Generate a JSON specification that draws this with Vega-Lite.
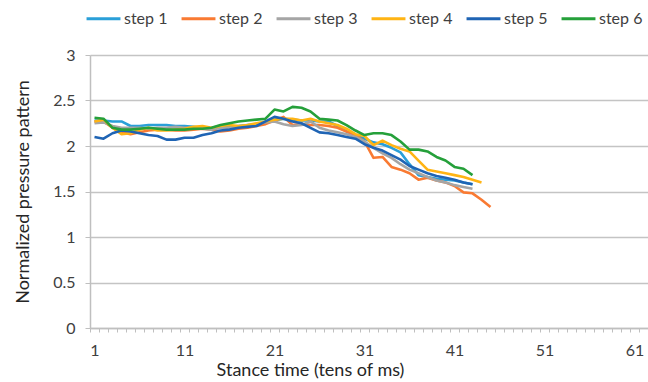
{
  "$schema": "https://vega.github.io/schema/vega-lite/v6.json",
  "width": 558,
  "height": 273,
  "autosize": "none",
  "padding": {"left": 90, "top": 55, "right": 0, "bottom": 54},
  "background": "white",
  "config": {
    "font": "Lato",
    "view": {"stroke": null},
    "axis": {"labelFont": "Lato", "titleFont": "Lato", "labelColor": "#404040", "titleColor": "#262626", "titleFontWeight": "normal"}
  },
  "datasets": {
    "steps": [
      {"step":"step 1","t":1,"v":2.28},{"step":"step 1","t":2,"v":2.28},{"step":"step 1","t":3,"v":2.27},{"step":"step 1","t":4,"v":2.27},{"step":"step 1","t":5,"v":2.22},{"step":"step 1","t":6,"v":2.22},{"step":"step 1","t":7,"v":2.23},{"step":"step 1","t":8,"v":2.23},{"step":"step 1","t":9,"v":2.23},{"step":"step 1","t":10,"v":2.22},{"step":"step 1","t":11,"v":2.22},{"step":"step 1","t":12,"v":2.21},{"step":"step 1","t":13,"v":2.2},{"step":"step 1","t":14,"v":2.19},{"step":"step 1","t":15,"v":2.2},{"step":"step 1","t":16,"v":2.21},{"step":"step 1","t":17,"v":2.22},{"step":"step 1","t":18,"v":2.23},{"step":"step 1","t":19,"v":2.24},{"step":"step 1","t":20,"v":2.26},{"step":"step 1","t":21,"v":2.28},{"step":"step 1","t":22,"v":2.3},{"step":"step 1","t":23,"v":2.29},{"step":"step 1","t":24,"v":2.28},{"step":"step 1","t":25,"v":2.28},{"step":"step 1","t":26,"v":2.27},{"step":"step 1","t":27,"v":2.27},{"step":"step 1","t":28,"v":2.22},{"step":"step 1","t":29,"v":2.16},{"step":"step 1","t":30,"v":2.12},{"step":"step 1","t":31,"v":2.08},{"step":"step 1","t":32,"v":2.04},{"step":"step 1","t":33,"v":2.02},{"step":"step 1","t":34,"v":1.98},{"step":"step 1","t":35,"v":1.93},{"step":"step 1","t":36,"v":1.8},{"step":"step 1","t":37,"v":1.68},{"step":"step 1","t":38,"v":1.66},{"step":"step 1","t":39,"v":1.64},{"step":"step 1","t":40,"v":1.63},{"step":"step 1","t":41,"v":1.62},{"step":"step 1","t":42,"v":1.6},{"step":"step 1","t":43,"v":1.58},

      {"step":"step 2","t":1,"v":2.27},{"step":"step 2","t":2,"v":2.27},{"step":"step 2","t":3,"v":2.2},{"step":"step 2","t":4,"v":2.15},{"step":"step 2","t":5,"v":2.13},{"step":"step 2","t":6,"v":2.15},{"step":"step 2","t":7,"v":2.17},{"step":"step 2","t":8,"v":2.18},{"step":"step 2","t":9,"v":2.18},{"step":"step 2","t":10,"v":2.17},{"step":"step 2","t":11,"v":2.17},{"step":"step 2","t":12,"v":2.18},{"step":"step 2","t":13,"v":2.19},{"step":"step 2","t":14,"v":2.18},{"step":"step 2","t":15,"v":2.16},{"step":"step 2","t":16,"v":2.17},{"step":"step 2","t":17,"v":2.19},{"step":"step 2","t":18,"v":2.2},{"step":"step 2","t":19,"v":2.22},{"step":"step 2","t":20,"v":2.24},{"step":"step 2","t":21,"v":2.28},{"step":"step 2","t":22,"v":2.32},{"step":"step 2","t":23,"v":2.23},{"step":"step 2","t":24,"v":2.24},{"step":"step 2","t":25,"v":2.23},{"step":"step 2","t":26,"v":2.23},{"step":"step 2","t":27,"v":2.22},{"step":"step 2","t":28,"v":2.2},{"step":"step 2","t":29,"v":2.16},{"step":"step 2","t":30,"v":2.12},{"step":"step 2","t":31,"v":2.05},{"step":"step 2","t":32,"v":1.87},{"step":"step 2","t":33,"v":1.88},{"step":"step 2","t":34,"v":1.77},{"step":"step 2","t":35,"v":1.74},{"step":"step 2","t":36,"v":1.7},{"step":"step 2","t":37,"v":1.63},{"step":"step 2","t":38,"v":1.65},{"step":"step 2","t":39,"v":1.62},{"step":"step 2","t":40,"v":1.6},{"step":"step 2","t":41,"v":1.56},{"step":"step 2","t":42,"v":1.49},{"step":"step 2","t":43,"v":1.48},{"step":"step 2","t":44,"v":1.41},{"step":"step 2","t":45,"v":1.33},

      {"step":"step 3","t":1,"v":2.25},{"step":"step 3","t":2,"v":2.26},{"step":"step 3","t":3,"v":2.22},{"step":"step 3","t":4,"v":2.2},{"step":"step 3","t":5,"v":2.2},{"step":"step 3","t":6,"v":2.2},{"step":"step 3","t":7,"v":2.19},{"step":"step 3","t":8,"v":2.2},{"step":"step 3","t":9,"v":2.2},{"step":"step 3","t":10,"v":2.21},{"step":"step 3","t":11,"v":2.2},{"step":"step 3","t":12,"v":2.2},{"step":"step 3","t":13,"v":2.19},{"step":"step 3","t":14,"v":2.18},{"step":"step 3","t":15,"v":2.2},{"step":"step 3","t":16,"v":2.2},{"step":"step 3","t":17,"v":2.21},{"step":"step 3","t":18,"v":2.22},{"step":"step 3","t":19,"v":2.24},{"step":"step 3","t":20,"v":2.26},{"step":"step 3","t":21,"v":2.27},{"step":"step 3","t":22,"v":2.24},{"step":"step 3","t":23,"v":2.22},{"step":"step 3","t":24,"v":2.23},{"step":"step 3","t":25,"v":2.27},{"step":"step 3","t":26,"v":2.2},{"step":"step 3","t":27,"v":2.17},{"step":"step 3","t":28,"v":2.15},{"step":"step 3","t":29,"v":2.13},{"step":"step 3","t":30,"v":2.1},{"step":"step 3","t":31,"v":2.05},{"step":"step 3","t":32,"v":1.98},{"step":"step 3","t":33,"v":1.92},{"step":"step 3","t":34,"v":1.87},{"step":"step 3","t":35,"v":1.8},{"step":"step 3","t":36,"v":1.74},{"step":"step 3","t":37,"v":1.7},{"step":"step 3","t":38,"v":1.66},{"step":"step 3","t":39,"v":1.62},{"step":"step 3","t":40,"v":1.6},{"step":"step 3","t":41,"v":1.57},{"step":"step 3","t":42,"v":1.55},{"step":"step 3","t":43,"v":1.53},

      {"step":"step 4","t":1,"v":2.27},{"step":"step 4","t":2,"v":2.29},{"step":"step 4","t":3,"v":2.2},{"step":"step 4","t":4,"v":2.13},{"step":"step 4","t":5,"v":2.14},{"step":"step 4","t":6,"v":2.18},{"step":"step 4","t":7,"v":2.2},{"step":"step 4","t":8,"v":2.17},{"step":"step 4","t":9,"v":2.17},{"step":"step 4","t":10,"v":2.18},{"step":"step 4","t":11,"v":2.19},{"step":"step 4","t":12,"v":2.21},{"step":"step 4","t":13,"v":2.22},{"step":"step 4","t":14,"v":2.2},{"step":"step 4","t":15,"v":2.22},{"step":"step 4","t":16,"v":2.23},{"step":"step 4","t":17,"v":2.22},{"step":"step 4","t":18,"v":2.23},{"step":"step 4","t":19,"v":2.25},{"step":"step 4","t":20,"v":2.27},{"step":"step 4","t":21,"v":2.29},{"step":"step 4","t":22,"v":2.3},{"step":"step 4","t":23,"v":2.3},{"step":"step 4","t":24,"v":2.28},{"step":"step 4","t":25,"v":2.3},{"step":"step 4","t":26,"v":2.27},{"step":"step 4","t":27,"v":2.25},{"step":"step 4","t":28,"v":2.23},{"step":"step 4","t":29,"v":2.19},{"step":"step 4","t":30,"v":2.13},{"step":"step 4","t":31,"v":2.11},{"step":"step 4","t":32,"v":2.01},{"step":"step 4","t":33,"v":2.06},{"step":"step 4","t":34,"v":2.01},{"step":"step 4","t":35,"v":1.97},{"step":"step 4","t":36,"v":1.94},{"step":"step 4","t":37,"v":1.84},{"step":"step 4","t":38,"v":1.74},{"step":"step 4","t":39,"v":1.72},{"step":"step 4","t":40,"v":1.7},{"step":"step 4","t":41,"v":1.68},{"step":"step 4","t":42,"v":1.66},{"step":"step 4","t":43,"v":1.63},{"step":"step 4","t":44,"v":1.6},

      {"step":"step 5","t":1,"v":2.1},{"step":"step 5","t":2,"v":2.08},{"step":"step 5","t":3,"v":2.14},{"step":"step 5","t":4,"v":2.17},{"step":"step 5","t":5,"v":2.16},{"step":"step 5","t":6,"v":2.14},{"step":"step 5","t":7,"v":2.12},{"step":"step 5","t":8,"v":2.11},{"step":"step 5","t":9,"v":2.07},{"step":"step 5","t":10,"v":2.07},{"step":"step 5","t":11,"v":2.09},{"step":"step 5","t":12,"v":2.09},{"step":"step 5","t":13,"v":2.12},{"step":"step 5","t":14,"v":2.14},{"step":"step 5","t":15,"v":2.17},{"step":"step 5","t":16,"v":2.18},{"step":"step 5","t":17,"v":2.2},{"step":"step 5","t":18,"v":2.21},{"step":"step 5","t":19,"v":2.22},{"step":"step 5","t":20,"v":2.27},{"step":"step 5","t":21,"v":2.32},{"step":"step 5","t":22,"v":2.3},{"step":"step 5","t":23,"v":2.27},{"step":"step 5","t":24,"v":2.25},{"step":"step 5","t":25,"v":2.2},{"step":"step 5","t":26,"v":2.15},{"step":"step 5","t":27,"v":2.14},{"step":"step 5","t":28,"v":2.12},{"step":"step 5","t":29,"v":2.1},{"step":"step 5","t":30,"v":2.08},{"step":"step 5","t":31,"v":2.02},{"step":"step 5","t":32,"v":1.98},{"step":"step 5","t":33,"v":1.95},{"step":"step 5","t":34,"v":1.9},{"step":"step 5","t":35,"v":1.85},{"step":"step 5","t":36,"v":1.78},{"step":"step 5","t":37,"v":1.74},{"step":"step 5","t":38,"v":1.7},{"step":"step 5","t":39,"v":1.67},{"step":"step 5","t":40,"v":1.65},{"step":"step 5","t":41,"v":1.63},{"step":"step 5","t":42,"v":1.6},{"step":"step 5","t":43,"v":1.58},

      {"step":"step 6","t":1,"v":2.31},{"step":"step 6","t":2,"v":2.3},{"step":"step 6","t":3,"v":2.2},{"step":"step 6","t":4,"v":2.18},{"step":"step 6","t":5,"v":2.18},{"step":"step 6","t":6,"v":2.19},{"step":"step 6","t":7,"v":2.2},{"step":"step 6","t":8,"v":2.19},{"step":"step 6","t":9,"v":2.18},{"step":"step 6","t":10,"v":2.18},{"step":"step 6","t":11,"v":2.18},{"step":"step 6","t":12,"v":2.19},{"step":"step 6","t":13,"v":2.19},{"step":"step 6","t":14,"v":2.2},{"step":"step 6","t":15,"v":2.23},{"step":"step 6","t":16,"v":2.25},{"step":"step 6","t":17,"v":2.27},{"step":"step 6","t":18,"v":2.28},{"step":"step 6","t":19,"v":2.29},{"step":"step 6","t":20,"v":2.3},{"step":"step 6","t":21,"v":2.4},{"step":"step 6","t":22,"v":2.38},{"step":"step 6","t":23,"v":2.43},{"step":"step 6","t":24,"v":2.42},{"step":"step 6","t":25,"v":2.38},{"step":"step 6","t":26,"v":2.3},{"step":"step 6","t":27,"v":2.29},{"step":"step 6","t":28,"v":2.28},{"step":"step 6","t":29,"v":2.23},{"step":"step 6","t":30,"v":2.17},{"step":"step 6","t":31,"v":2.12},{"step":"step 6","t":32,"v":2.14},{"step":"step 6","t":33,"v":2.14},{"step":"step 6","t":34,"v":2.12},{"step":"step 6","t":35,"v":2.05},{"step":"step 6","t":36,"v":1.96},{"step":"step 6","t":37,"v":1.96},{"step":"step 6","t":38,"v":1.94},{"step":"step 6","t":39,"v":1.88},{"step":"step 6","t":40,"v":1.84},{"step":"step 6","t":41,"v":1.77},{"step":"step 6","t":42,"v":1.75},{"step":"step 6","t":43,"v":1.68}
    ]
  },
  "data": {"name": "steps"},
  "mark": {"type": "line", "strokeWidth": 2.6, "strokeJoin": "round"},
  "encoding": {
    "x": {
      "field": "t", "type": "quantitative",
      "scale": {"domain": [0.5, 62.5], "nice": false, "zero": false},
      "axis": {
        "title": "Stance time (tens of ms)",
        "titleFontSize": 18, "titlePadding": 3,
        "titleX": 220, "titleAlign": "center", "titleAnchor": "start",
        "values": [1,2,3,4,5,6,7,8,9,10,11,12,13,14,15,16,17,18,19,20,21,22,23,24,25,26,27,28,29,30,31,32,33,34,35,36,37,38,39,40,41,42,43,44,45,46,47,48,49,50,51,52,53,54,55,56,57,58,59,60,61,62],
        "labelExpr": "(datum.value - 1) % 10 == 0 ? datum.label : ''",
        "tickOffset": -4.5,
        "labelOffset": 4.5,
        "labelFontSize": 16, "labelPadding": 10,
        "labelOverlap": false,
        "tickSize": 4, "tickColor": "#bfbfbf", "tickWidth": 1,
        "domainColor": "#bfbfbf", "domainWidth": 1.5,
        "grid": false
      }
    },
    "y": {
      "field": "v", "type": "quantitative",
      "scale": {"domain": [0, 3], "nice": false},
      "axis": {
        "title": "Normalized pressure pattern",
        "titleFontSize": 18, "titlePadding": 20,
        "values": [0, 0.5, 1, 1.5, 2, 2.5, 3],
        "format": "~g",
        "labelFontSize": 16, "labelPadding": 10,
        "tickSize": 5, "tickColor": "#bfbfbf",
        "domainColor": "#bfbfbf", "domainWidth": 1.5,
        "grid": true, "gridColor": "#c4c4c4", "gridWidth": 1.5
      }
    },
    "color": {
      "field": "step", "type": "nominal",
      "scale": {"domain": ["step 1","step 2","step 3","step 4","step 5","step 6"], "range": ["#2a9fd8","#f97a32","#a5a5a5","#ffb414","#1f64b4","#25a03a"]},
      "legend": {
        "title": null, "orient": "none", "direction": "horizontal",
        "legendX": -5, "legendY": -55,
        "symbolType": "stroke", "symbolStrokeWidth": 3, "symbolSize": 1150,
        "labelFontSize": 16, "labelColor": "#404040", "labelOffset": 2,
        "columnPadding": 7
      }
    }
  }
}
